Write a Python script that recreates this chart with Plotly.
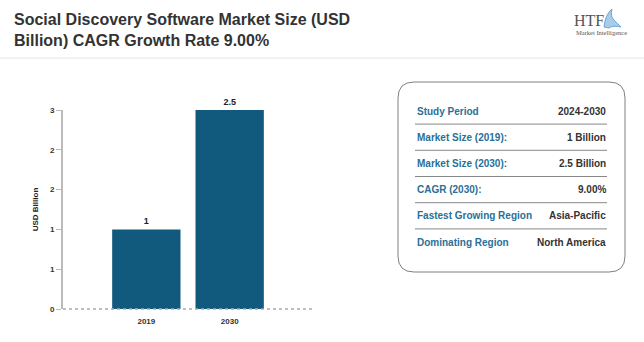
import plotly.graph_objects as go

W, H = 644, 342

categories = ["2019", "2030"]
values = [1, 2.5]
value_labels = ["1", "2.5"]

info_labels = ["Study Period", "Market Size (2019):", "Market Size (2030):", "CAGR (2030):",
               "Fastest Growing Region", "Dominating Region"]
info_values = ["2024-2030", "1 Billion", "2.5 Billion", "9.00%", "Asia-Pacific", "North America"]

title_text = "Social Discovery Software Market Size (USD<br>Billion) CAGR Growth Rate 9.00%"

FONT = "Liberation Sans, Arial, sans-serif"
BAR = "#115a7e"

def px(x):
    return x / W

def py(y):
    return 1 - y / H

fig = go.Figure()
fig.add_trace(go.Bar(
    x=[0, 1], y=values, width=0.82, marker=dict(color=BAR, line=dict(width=0)),
    text=value_labels, textposition="outside", cliponaxis=False,
    textfont=dict(family=FONT, size=9, color="#222", weight="bold"),
    hoverinfo="skip",
))

fig.update_layout(
    width=W, height=H, autosize=False,
    margin=dict(l=0, r=0, t=0, b=0, pad=0),
    paper_bgcolor="white", plot_bgcolor="white",
    showlegend=False,
    font=dict(family=FONT),
    xaxis=dict(
        domain=[px(63), px(313)], range=[-1, 2], automargin=False,
        tickmode="array", tickvals=[0, 1], ticktext=categories,
        tickfont=dict(family=FONT, size=8, color="#333", weight="bold"),
        showgrid=False, zeroline=False, showline=False, ticks="outside", ticklen=4, tickcolor="rgba(0,0,0,0)",
        fixedrange=True,
    ),
    yaxis=dict(
        domain=[py(309), py(110)], range=[0, 2.5], automargin=False,
        dtick=0.5, tick0=0, tickformat=".0f",
        tickfont=dict(family=FONT, size=8, color="#333", weight="bold"),
        showgrid=False, zeroline=False,
        showline=True, linecolor="#bbbbbb", linewidth=2,
        ticks="outside", ticklen=5, tickcolor="#bbbbbb", tickwidth=1,
        title=dict(text="USD Billion", font=dict(family=FONT, size=8, color="#222", weight="bold"), standoff=10),
        fixedrange=True,
    ),
)

shapes = []
# header separator
shapes.append(dict(type="line", xref="paper", yref="paper", x0=0, x1=1, y0=py(58), y1=py(58),
                   line=dict(color="#e4e4e4", width=1)))
# dotted x baseline
shapes.append(dict(type="line", xref="paper", yref="paper", x0=px(63), x1=px(313), y0=py(309), y1=py(309),
                   line=dict(color="#aaaaaa", width=1.5, dash="dot")))
# rounded info box
x0, x1, y0, y1, r = 398, 625, 82, 272, 16
rx, ry = r / W, r / H
X0, X1, Yt, Yb = px(x0), px(x1), py(y0), py(y1)
path = (f"M {X0+rx},{Yt} L {X1-rx},{Yt} Q {X1},{Yt} {X1},{Yt-ry} "
        f"L {X1},{Yb+ry} Q {X1},{Yb} {X1-rx},{Yb} "
        f"L {X0+rx},{Yb} Q {X0},{Yb} {X0},{Yb+ry} "
        f"L {X0},{Yt-ry} Q {X0},{Yt} {X0+rx},{Yt} Z")
shapes.append(dict(type="path", xref="paper", yref="paper", path=path,
                   line=dict(color="#808080", width=1), fillcolor="rgba(0,0,0,0)"))

# logo icon (approximate blue swirl)
def P(x, y):
    return f"{px(x)},{py(y)}"
icon = (f"M {P(604,27)} Q {P(605,15)} {P(612,9)} Q {P(610,16)} {P(614,20)} "
        f"Q {P(617,23)} {P(621,27)} Q {P(613,25)} {P(609,28)} Z")
shapes.append(dict(type="path", xref="paper", yref="paper", path=icon,
                   line=dict(color="#6fa8d6", width=1), fillcolor="rgba(111,168,214,0.6)"))

annotations = []
annotations.append(dict(text=title_text, xref="paper", yref="paper", x=px(12), y=py(9),
                        xanchor="left", yanchor="top", align="left", showarrow=False,
                        font=dict(family=FONT, size=16, color="#333", weight="bold")))
# logo text
annotations.append(dict(text="HTF", xref="paper", yref="paper", x=px(572), y=py(21),
                        xanchor="left", yanchor="middle", showarrow=False,
                        font=dict(family="Liberation Serif, DejaVu Serif, serif", size=16, color="#555")))
annotations.append(dict(text="Market Intelligence", xref="paper", yref="paper", x=px(574), y=py(32),
                        xanchor="left", yanchor="middle", showarrow=False,
                        font=dict(family="Liberation Serif, serif", size=6.5, color="#555")))

row_y0, row_dy = 111, 26.2
for i, (lab, val) in enumerate(zip(info_labels, info_values)):
    yc = row_y0 + i * row_dy
    annotations.append(dict(text=lab, xref="paper", yref="paper", x=px(415), y=py(yc),
                            xanchor="left", yanchor="middle", showarrow=False,
                            font=dict(family=FONT, size=10, color="#2a6f97", weight="bold")))
    annotations.append(dict(text=val, xref="paper", yref="paper", x=px(608), y=py(yc),
                            xanchor="right", yanchor="middle", showarrow=False,
                            font=dict(family=FONT, size=10, color="#333", weight="bold")))
    if i < len(info_labels) - 1:
        ys = yc + row_dy / 2
        shapes.append(dict(type="line", xref="paper", yref="paper", x0=px(415), x1=px(607),
                           y0=py(ys), y1=py(ys), line=dict(color="#888888", width=1)))

fig.update_layout(shapes=shapes, annotations=annotations)
fig.write_html("out.html")
